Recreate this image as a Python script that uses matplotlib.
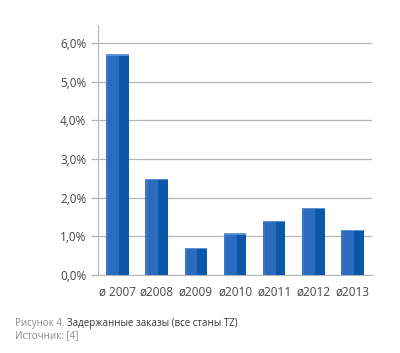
import numpy as np
import matplotlib.pyplot as plt

# data
labels = ['ø 2007', 'ø2008', 'ø2009', 'ø2010', 'ø2011', 'ø2012', 'ø2013']
values = [5.7, 2.48, 0.70, 1.08, 1.40, 1.73, 1.16]
yticks = [0, 1, 2, 3, 4, 5, 6]

plt.rcParams['font.family'] = ['Open Sans', 'DejaVu Sans']

fig = plt.figure(figsize=(4.0, 3.53), dpi=100)
ax = fig.add_axes([0.245, 0.221, 0.685, 0.708])

x = np.arange(len(values))
w = 0.58
# front face: lighter left part, darker right part
ax.bar(x, values, width=w, color='#2b6cbf', zorder=3)
ax.bar(x + w * 0.07, values, width=w * 0.43, align='edge', color='#0d57a8', zorder=4)
ax.bar(x - w * 0.5, values, width=w * 0.1, align='edge', color='#3a78c6', zorder=4)
# top bevel
ax.bar(x, [0.035] * len(values), bottom=np.array(values) - 0.035, width=w,
       color='#5b93d4', zorder=5)

ax.set_xlim(-0.5, 6.5)
ax.set_ylim(0, 6.46)
ax.set_yticks(yticks)
ax.set_yticklabels(['%d,0%%' % v for v in yticks])
ax.set_xticks(x)
ax.set_xticklabels(labels)

ax.grid(axis='y', color='#b5b5b5', linewidth=0.9, zorder=0)
for s in ['top', 'right']:
    ax.spines[s].set_visible(False)
ax.spines['left'].set_color('#b5b5b5')
ax.spines['bottom'].set_color('#b5b5b5')
ax.tick_params(axis='y', colors='#b5b5b5', labelcolor='#444444', labelsize=8.5, length=5, width=0.9)
ax.tick_params(axis='x', colors='#b5b5b5', labelcolor='#444444', labelsize=8.5, length=0, pad=8)

t1 = fig.text(0.038, 0.077, 'Рисунок 4.', fontsize=7, color='#8a8a8a')
fig.canvas.draw()
fig.text(t1.get_window_extent().x1 / fig.bbox.width + 0.006, 0.077,
         'Задержанные заказы (все станы TZ)', fontsize=7, color='#333333')
fig.text(0.038, 0.041, 'Источник: [4]', fontsize=7, color='#8a8a8a')

fig.savefig('out.png', dpi=100)
